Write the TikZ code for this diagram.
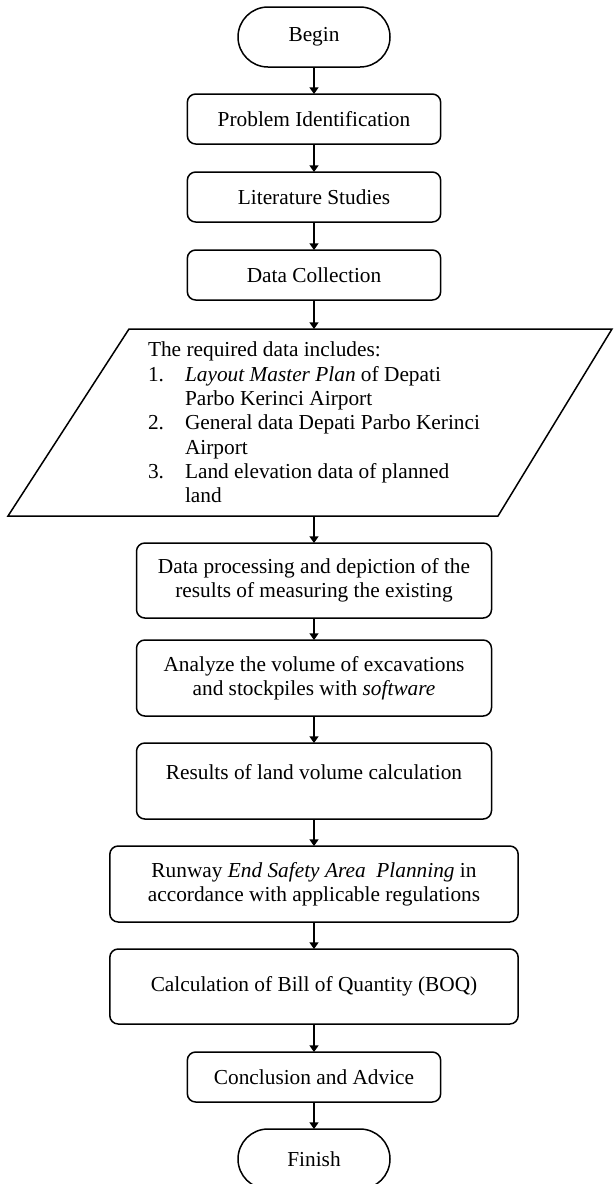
\documentclass[tikz,border=0pt]{standalone}
\usepackage{fontspec}
\setmainfont{Liberation Serif}
\usepackage{tikz}
\usetikzlibrary{arrows.meta}
\usetikzlibrary{positioning}
\newcommand{\listno}[1]{\makebox[22.2pt][l]{#1}}
\newcommand{\listgap}{\hspace*{22.2pt}}
\tikzset{
    terminal/.style={
           rectangle,
           rounded corners=18pt,
           draw=black, line width=0.9pt,
           minimum width=91.2pt, minimum height=36pt,
           inner sep=2pt, outer sep=0pt,
           font=\fontsize{12.8pt}{14.6pt}\selectfont,
           align=center,
           },
}
\tikzset{
    process/.style={
           rectangle,
           rounded corners=5pt,
           draw=black, line width=0.9pt,
           inner sep=2pt, outer sep=0pt,
           font=\fontsize{12.8pt}{14.6pt}\selectfont,
           align=center,
           },
}
\tikzset{
    dataio/.style={
           rectangle,
           inner sep=0pt, outer sep=0pt,
           minimum height=112.2pt,
           font=\fontsize{12.8pt}{14.6pt}\selectfont,
           align=left,
           },
}
\tikzset{
    flow/.style={
           -{Triangle[length=4pt,width=5.4pt]},
           draw=black, line width=0.9pt,
           },
}

\begin{document}
\begin{tikzpicture}
\useasboundingbox (0,0) rectangle (367.8pt,-710.4pt);
\node[terminal](begin) at (188.4pt,-22.2pt){Begin};
\node[process,minimum width=152pt,minimum height=30pt,below = 16.2pt of begin](ident){Problem Identification};
\node[process,minimum width=152pt,minimum height=30pt,below = 16.8pt of ident](lit){Literature Studies};
\node[process,minimum width=152pt,minimum height=30pt,below = 16.8pt of lit](collect){Data Collection};
\node[dataio,below = 17.4pt of collect](data){The required data includes:\\
\listno{1.}\textit{Layout Master Plan} of Depati\\
\listgap Parbo Kerinci Airport\\
\listno{2.}General data Depati Parbo Kerinci\\
\listgap Airport\\
\listno{3.}Land elevation data of planned\\
\listgap land};
\draw[line width=0.9pt] ([xshift=-111pt]data.north) -- ([xshift=178.8pt]data.north)
    -- ([xshift=110.4pt]data.south) -- ([xshift=-183.6pt]data.south) -- cycle;
\node[process,minimum width=213pt,minimum height=45pt,below = 16.2pt of data](depict){Data processing and depiction of the\\ results of measuring the existing};
\node[process,minimum width=213pt,minimum height=45.6pt,below = 13.2pt of depict](analyze){Analyze the volume of excavations\\ and stockpiles with \textit{software}};
\node[process,minimum width=213pt,minimum height=45.6pt,below = 16.2pt of analyze](result){Results of land volume calculation\\[-3.6pt]\mbox{}};
\node[process,minimum width=245pt,minimum height=45.6pt,below = 16.2pt of result](resa){Runway \textit{End Safety Area}\ \ \textit{Planning} in\\ accordance with applicable regulations};
\node[process,minimum width=245pt,minimum height=45pt,below = 16.2pt of resa](boq){Calculation of Bill of Quantity (BOQ)};
\node[process,minimum width=152pt,minimum height=30pt,below = 16.8pt of boq](concl){Conclusion and Advice};
\node[terminal,below = 16.2pt of concl](finish){Finish};
\path (begin) edge[flow] (ident);
\path (ident) edge[flow] (lit);
\path (lit) edge[flow] (collect);
\path (collect) edge[flow] (data);
\path (data) edge[flow] (depict);
\path (depict) edge[flow] (analyze);
\path (analyze) edge[flow] (result);
\path (result) edge[flow] (resa);
\path (resa) edge[flow] (boq);
\path (boq) edge[flow] (concl);
\path (concl) edge[flow] (finish);
\end{tikzpicture}
\end{document}
